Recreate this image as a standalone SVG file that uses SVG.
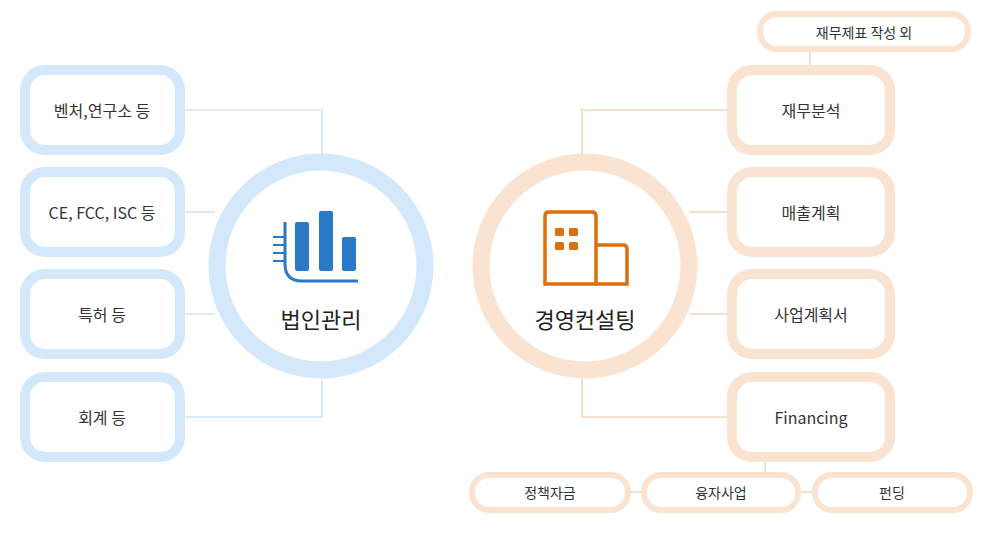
<svg xmlns="http://www.w3.org/2000/svg" width="1000" height="533" viewBox="0 0 1000 533">
<style>
.b{fill:#fff;stroke:#d3e8fa;stroke-width:10}
.o{fill:#fff;stroke:#fbe3d1;stroke-width:10}
.op{fill:#fff;stroke:#fbe3d1;stroke-width:6}
.lb{fill:none;stroke:#cfe4f6;stroke-width:1.5}
.lo{fill:none;stroke:#f6d3bd;stroke-width:1.5}
text{font-family:"Noto Sans CJK KR","Noto Sans",sans-serif;fill:#333;text-anchor:middle;dominant-baseline:central}
.t{font-size:16px}
.s{font-size:14px}
.c{font-size:22px;fill:#222}
</style>
<rect width="1000" height="533" fill="#fff"/>
<g id="connectors">
<path class="lb" d="M182 110H322V155M182 212H215M182 314H215M182 417H322V378"/>
<path class="lo" d="M730 110H582V155M730 212H690M730 314H690M730 417H582V378M810 50V68M765 457V473M630 492H642M800 492H813"/>
</g>
<g id="n1"><rect class="b" x="25" y="70" width="155" height="80" rx="20"/><text class="t" x="102" y="110">벤처,연구소 등</text></g>
<g id="n2"><rect class="b" x="25" y="172" width="155" height="80" rx="20"/><text class="t" x="102" y="212">CE, FCC, ISC 등</text></g>
<g id="n3"><rect class="b" x="25" y="274" width="155" height="80" rx="20"/><text class="t" x="102" y="314">특허 등</text></g>
<g id="n4"><rect class="b" x="25" y="377" width="155" height="80" rx="20"/><text class="t" x="102" y="417">회계 등</text></g>
<g id="c1">
<circle cx="321" cy="266" r="104" fill="#fff" stroke="#d3e8fa" stroke-width="17"/>
<g fill="#2a78c6"><rect x="295" y="222" width="14" height="49" rx="2"/><rect x="319" y="211" width="14" height="60" rx="2"/><rect x="342" y="237" width="14" height="34" rx="2"/></g>
<path d="M285 222V264Q285 281 302 281H358" fill="none" stroke="#2a78c6" stroke-width="3"/>
<path d="M273 237H284M273 245H284M273 253H284M273 261H284" stroke="#2a78c6" stroke-width="2"/>
<text class="c" x="321" y="318">법인관리</text>
</g>
<g id="c2">
<circle cx="585" cy="266" r="104" fill="#fff" stroke="#fbe3d1" stroke-width="17"/>
<g fill="none" stroke="#dc6f10" stroke-width="3.5"><path d="M545 284V216Q545 212 549 212H592Q596 212 596 216V284Z"/><path d="M596 245H623Q627 245 627 249V284H596"/></g>
<g fill="#dc6f10"><rect x="555" y="228" width="9" height="8" rx="1.5"/><rect x="569" y="228" width="9" height="8" rx="1.5"/><rect x="555" y="242" width="9" height="8" rx="1.5"/><rect x="569" y="242" width="9" height="8" rx="1.5"/></g>
<text class="c" x="585" y="318">경영컨설팅</text>
</g>
<g id="n5"><rect class="op" x="760" y="14" width="208" height="35" rx="17"/><text class="s" x="864" y="32">재무제표 작성 외</text></g>
<g id="n6"><rect class="o" x="732" y="70" width="158" height="80" rx="20"/><text class="t" x="811" y="110">재무분석</text></g>
<g id="n7"><rect class="o" x="732" y="172" width="158" height="80" rx="20"/><text class="t" x="811" y="212">매출계획</text></g>
<g id="n8"><rect class="o" x="732" y="274" width="158" height="80" rx="20"/><text class="t" x="811" y="314">사업계획서</text></g>
<g id="n9"><rect class="o" x="732" y="377" width="158" height="80" rx="20"/><text class="t" x="811" y="417">Financing</text></g>
<g id="n10"><rect class="op" x="472" y="475" width="156" height="35" rx="17"/><text class="s" x="550" y="492">정책자금</text></g>
<g id="n11"><rect class="op" x="644" y="475" width="154" height="35" rx="17"/><text class="s" x="721" y="492">융자사업</text></g>
<g id="n12"><rect class="op" x="815" y="475" width="155" height="35" rx="17"/><text class="s" x="892" y="492">펀딩</text></g>
</svg>
